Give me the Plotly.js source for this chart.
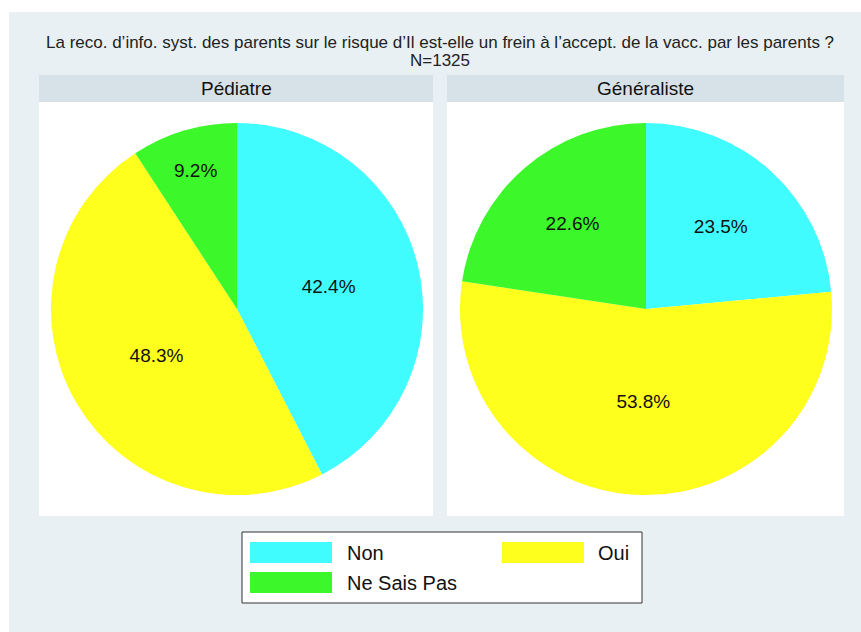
<!DOCTYPE html>
<html>
<head>
<meta charset="utf-8">
<script src="https://cdn.plot.ly/plotly-3.0.1.min.js"></script>
<style>html,body{margin:0;padding:0;background:#fff;}#chart{width:861px;height:632px;}</style>
</head>
<body>
<div id="chart"></div>
<script>
// ---- data ----
const categories = ["Non", "Oui", "Ne Sais Pas"];
const panels = ["Pédiatre", "Généraliste"];
const pediatreValues = [42.4, 48.3, 9.2];
const generalisteValues = [23.5, 53.8, 22.6];
const colors = ["#40FCFF", "#FFFF1E", "#3CF72A"];
const titleLine1 = "La reco. d’info. syst. des parents sur le risque d’Il est-elle un frein à l’accept. de la vacc. par les parents ?";
const titleLine2 = "N=1325";

const W = 861, H = 632;
const px = v => v / W;
const py = v => 1 - v / H;

const FONT = "Liberation Sans, Arial, Helvetica, sans-serif";

// panel geometry (pixels)
const panelBoxes = [
  {x0: 39, x1: 433, cx: 237},
  {x0: 447, x1: 844, cx: 646}
];
const stripTop = 75, stripBottom = 102, plotBottom = 516;
const pieCy = 309, pieR = 186;

const seriesValues = [pediatreValues, generalisteValues];

const traces = seriesValues.map((vals, i) => ({
  type: "pie",
  labels: categories,
  values: vals,
  sort: false,
  direction: "clockwise",
  rotation: 0,
  marker: {colors: colors, line: {width: 0}},
  texttemplate: "%{value:.1f}%",
  textposition: "inside",
  insidetextorientation: "horizontal",
  textfont: {family: FONT, size: 19, color: "#111"},
  hoverinfo: "label+value",
  showlegend: false,
  domain: {
    x: [px(panelBoxes[i].cx - pieR - 10), px(panelBoxes[i].cx + pieR + 10)],
    y: [py(pieCy + pieR), py(pieCy - pieR)]
  }
}));

const shapes = [];
const annotations = [];

// outer background
shapes.push({type: "rect", xref: "paper", yref: "paper", x0: px(9), x1: px(861), y0: py(632), y1: py(12),
  fillcolor: "#E8F0F3", line: {width: 0}, layer: "below"});

panelBoxes.forEach((b, i) => {
  shapes.push({type: "rect", xref: "paper", yref: "paper", x0: px(b.x0), x1: px(b.x1), y0: py(stripBottom), y1: py(stripTop),
    fillcolor: "#D7E2E8", line: {width: 0}, layer: "below"});
  shapes.push({type: "rect", xref: "paper", yref: "paper", x0: px(b.x0), x1: px(b.x1), y0: py(plotBottom), y1: py(stripBottom),
    fillcolor: "#FFFFFF", line: {width: 0}, layer: "below"});
  annotations.push({xref: "paper", yref: "paper", x: px((b.x0 + b.x1) / 2), y: py((stripTop + stripBottom) / 2),
    text: panels[i], showarrow: false, xanchor: "center", yanchor: "middle",
    font: {family: FONT, size: 19, color: "#111"}});
});

// title
annotations.push({xref: "paper", yref: "paper", x: px(440), y: py(42), text: titleLine1, showarrow: false,
  xanchor: "center", yanchor: "middle", font: {family: FONT, size: 17, color: "#222"}});
annotations.push({xref: "paper", yref: "paper", x: px(440), y: py(60), text: titleLine2, showarrow: false,
  xanchor: "center", yanchor: "middle", font: {family: FONT, size: 17, color: "#222"}});

// legend (built from categories/colors)
shapes.push({type: "rect", xref: "paper", yref: "paper", x0: px(242), x1: px(642), y0: py(603), y1: py(532),
  fillcolor: "#FFFFFF", line: {width: 1, color: "#333"}, layer: "below"});
const legendSlots = [
  {sx: 250, tx: 345, cy: 552.5},
  {sx: 502, tx: 596, cy: 552.5},
  {sx: 250, tx: 345, cy: 582.5}
];
categories.forEach((c, i) => {
  const s = legendSlots[i];
  shapes.push({type: "rect", xref: "paper", yref: "paper", x0: px(s.sx), x1: px(s.sx + 82), y0: py(s.cy + 10.5), y1: py(s.cy - 10.5),
    fillcolor: colors[i], line: {width: 0}});
  annotations.push({xref: "paper", yref: "paper", x: px(s.tx), y: py(s.cy), text: c, showarrow: false,
    xanchor: "left", yanchor: "middle", font: {family: FONT, size: 20, color: "#111"}});
});

const layout = {
  width: W, height: H,
  margin: {l: 0, r: 0, t: 0, b: 0},
  paper_bgcolor: "#FFFFFF",
  showlegend: false,
  shapes: shapes,
  annotations: annotations
};

Plotly.newPlot("chart", traces, layout, {displayModeBar: false, staticPlot: true});
</script>
</body>
</html>
